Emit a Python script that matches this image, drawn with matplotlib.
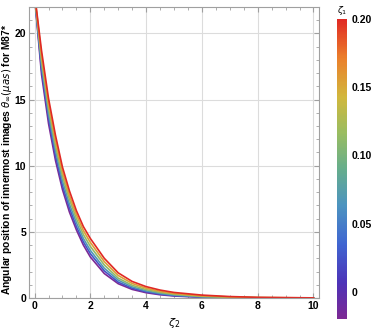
import numpy as np
import matplotlib
matplotlib.use('Agg')
import matplotlib.pyplot as plt
from matplotlib.colors import LinearSegmentedColormap, Normalize
from matplotlib.ticker import MultipleLocator
import matplotlib.cm as cm

plt.rcParams['font.family'] = ['Liberation Sans', 'DejaVu Sans']

# zeta_1 values of the drawn curves
zeta1 = [-0.02, 0.024, 0.068, 0.112, 0.156, 0.20]

# zeta_2 sample points
zeta2 = [0, 0.25, 0.5, 0.75, 1.0, 1.25, 1.5, 1.75, 2.0, 2.5, 3.0, 3.5, 4.0, 4.5, 5.0, 6.0, 7.0, 8.0, 9.0, 10.0]

# theta_inf (micro-arcsec) for each zeta_1, bottom (purple) to top (red)
theta_1 = [22.8, 16.9, 13.2, 10.4, 8.2, 6.5, 5.15, 4.0, 3.1, 1.85, 1.08, 0.65, 0.40, 0.245, 0.15, 0.055, 0.02, 0.008, 0.003, 0.001]
theta_2 = [22.84, 17.25, 13.6, 10.75, 8.5, 6.8, 5.4, 4.25, 3.35, 2.05, 1.2, 0.74, 0.47, 0.29, 0.18, 0.07, 0.03, 0.01, 0.005, 0.002]
theta_3 = [22.88, 17.6, 13.95, 11.15, 8.85, 7.1, 5.7, 4.5, 3.6, 2.25, 1.35, 0.84, 0.54, 0.35, 0.22, 0.09, 0.04, 0.015, 0.008, 0.003]
theta_4 = [22.92, 17.95, 14.35, 11.5, 9.2, 7.45, 6.0, 4.8, 3.9, 2.5, 1.5, 0.96, 0.63, 0.42, 0.28, 0.12, 0.06, 0.025, 0.012, 0.005]
theta_5 = [22.96, 18.3, 14.7, 11.9, 9.55, 7.75, 6.3, 5.1, 4.2, 2.75, 1.7, 1.1, 0.74, 0.50, 0.34, 0.16, 0.08, 0.035, 0.02, 0.007]
theta_6 = [23.0, 18.7, 15.1, 12.3, 9.9, 8.1, 6.6, 5.4, 4.5, 3.0, 1.9, 1.25, 0.86, 0.60, 0.42, 0.22, 0.11, 0.05, 0.03, 0.01]
thetas = [theta_1, theta_2, theta_3, theta_4, theta_5, theta_6]

cbar_ticks = [0, 0.05, 0.10, 0.15, 0.20]
cbar_labels = ['0', '0.05', '0.10', '0.15', '0.20']

# rough copy of Mathematica's "Rainbow" gradient
rainbow = LinearSegmentedColormap.from_list('rainbow_m', [
    (0.00, (0.49, 0.16, 0.58)),
    (0.12, (0.30, 0.20, 0.72)),
    (0.25, (0.25, 0.40, 0.82)),
    (0.38, (0.30, 0.58, 0.75)),
    (0.50, (0.40, 0.68, 0.55)),
    (0.62, (0.60, 0.74, 0.38)),
    (0.74, (0.82, 0.72, 0.24)),
    (0.87, (0.92, 0.50, 0.17)),
    (1.00, (0.88, 0.16, 0.14)),
])
norm = Normalize(vmin=-0.02, vmax=0.20)

fig = plt.figure(figsize=(3.74, 3.32), dpi=100)
ax = fig.add_axes([0.0775, 0.1024, 0.7755, 0.8766])

for z1, th in zip(zeta1, thetas):
    ax.plot(zeta2, th, color=rainbow(norm(z1)), lw=1.2, solid_joinstyle='round')

ax.set_xlim(-0.2, 10.2)
ax.set_ylim(0, 22)
ax.xaxis.set_major_locator(MultipleLocator(2))
ax.xaxis.set_minor_locator(MultipleLocator(0.5))
ax.yaxis.set_major_locator(MultipleLocator(5))
ax.yaxis.set_minor_locator(MultipleLocator(1))
ax.grid(True, which='major', color='#dcdcdc', lw=0.8)
ax.set_axisbelow(True)
for s in ax.spines.values():
    s.set_color('#a0a0a0')
    s.set_linewidth(0.8)
ax.tick_params(which='both', direction='in', top=True, right=True, color='#a0a0a0',
               labelsize=7.5, pad=2)
ax.tick_params(which='major', length=3.5)
ax.tick_params(which='minor', length=2)
for lab in ax.get_xticklabels() + ax.get_yticklabels():
    lab.set_fontweight('bold')

ax.set_xlabel(r'$\zeta_2$', fontsize=8, labelpad=4)
ax.set_ylabel(r'Angular position of innermost images $\theta_\infty(\mu as)$ for M87*',
              fontsize=7.4, fontweight='bold')
ax.yaxis.set_label_coords(-0.05, 0.475)

cax = fig.add_axes([0.901, 0.039, 0.027, 0.904])
sm = cm.ScalarMappable(norm=norm, cmap=rainbow)
cb = fig.colorbar(sm, cax=cax, ticks=cbar_ticks)
cb.outline.set_visible(False)
cb.ax.set_yticklabels(cbar_labels)
cb.ax.tick_params(length=0, labelsize=7.5, pad=3)
for lab in cb.ax.get_yticklabels():
    lab.set_fontweight('bold')
cb.ax.set_title(r'$\zeta_1$', fontsize=6.5, pad=4)

fig.savefig('out.png', dpi=100)
